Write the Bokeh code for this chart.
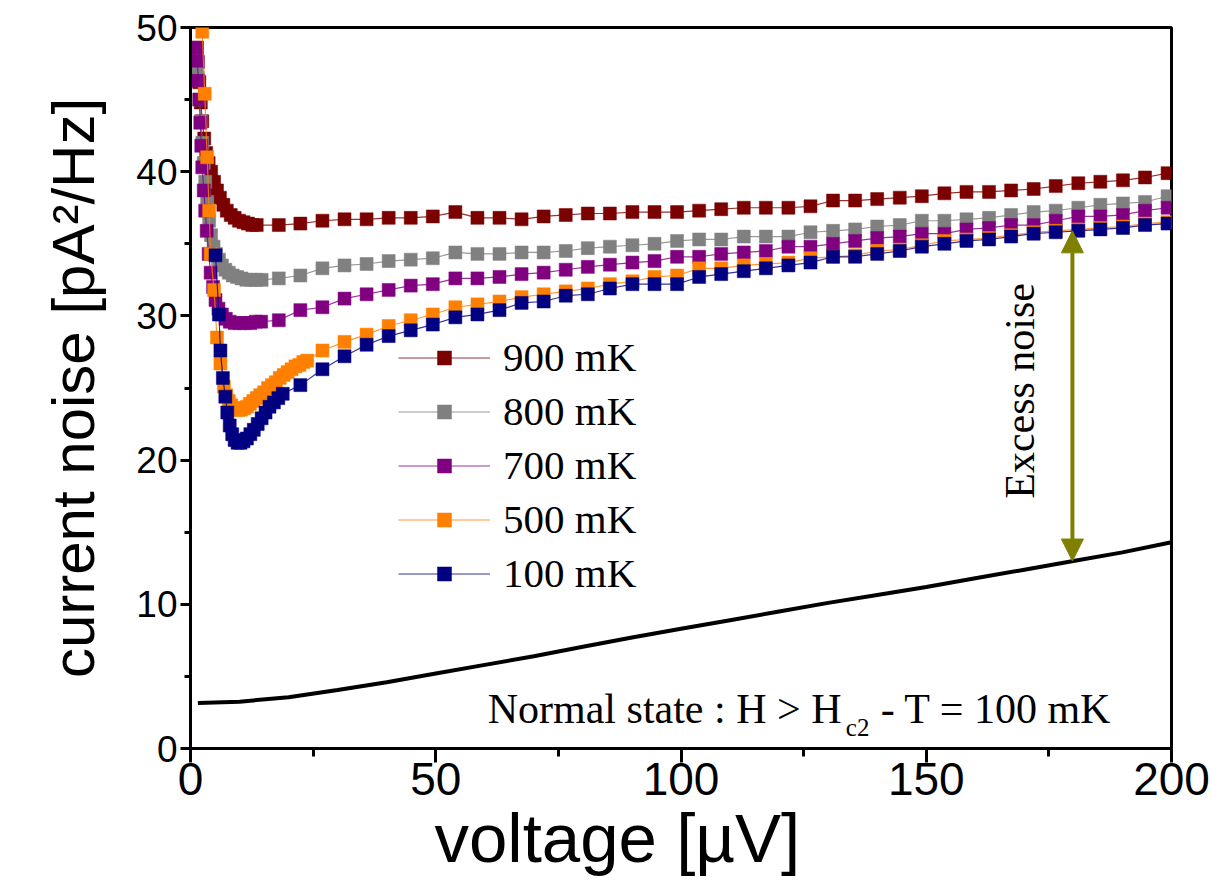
from bokeh.plotting import figure
from bokeh.models import Legend, LegendItem, Label, Arrow, NormalHead, Range1d, FixedTicker, Title
from bokeh.embed import file_html
from bokeh.resources import INLINE

# ---------------- data (voltage in µV, noise in pA^2/Hz) ----------------
V_SPARSE = [13.5, 18.0, 22.4, 26.9, 31.4, 35.9, 40.4, 44.9, 49.4, 54.0,
            58.5, 63.0, 67.5, 72.0, 76.5, 81.0, 85.5, 90.1, 94.6, 99.2,
            103.7, 108.2, 112.8, 117.3, 121.9, 126.4, 131.0, 135.5, 140.0, 144.6,
            149.1, 153.7, 158.2, 162.8, 167.3, 171.9, 176.4, 181.0, 185.5, 190.1,
            194.6, 199.2]

# 900 mK
v900_low = [1.3, 1.5, 1.8, 2.1, 2.4, 2.8, 3.2, 3.7, 4.2, 4.8, 5.4, 6.0, 6.7, 7.4,
            8.2, 9.0, 9.9, 10.8, 11.7, 12.6]
n900_low = [48.6, 47.6, 46.2, 44.8, 43.5, 42.3, 41.3, 40.6, 40.0, 39.3, 38.7, 38.2,
            37.7, 37.3, 37.0, 36.8, 36.6, 36.5, 36.4, 36.3]
n900_high = [36.3, 36.3, 36.4, 36.6, 36.7, 36.7, 36.8, 36.8, 36.9, 37.2,
             36.8, 36.8, 36.7, 36.9, 37.0, 37.1, 37.1, 37.2, 37.2, 37.2,
             37.3, 37.4, 37.5, 37.5, 37.5, 37.6, 38.0, 38.0, 38.1, 38.2,
             38.3, 38.5, 38.6, 38.6, 38.7, 38.8, 39.0, 39.2, 39.3, 39.4,
             39.6, 39.9]

# 800 mK
v800_low = [1.3, 1.5, 1.8, 2.1, 2.4, 2.7, 3.0, 3.4, 3.8, 4.2, 4.7, 5.2, 5.8, 6.4,
            7.1, 7.8, 8.6, 9.5, 10.4, 11.4, 12.4, 13.4, 14.5]
n800_low = [47.3, 46.5, 45.0, 43.5, 42.0, 40.6, 39.3, 37.9, 36.6, 35.6, 34.8, 34.3,
            33.9, 33.5, 33.2, 33.0, 32.8, 32.7, 32.6, 32.5, 32.5, 32.5, 32.5]
n800_high = [32.6, 32.8, 33.3, 33.5, 33.6, 33.8, 33.9, 34.0, 34.4, 34.3,
             34.3, 34.4, 34.4, 34.5, 34.7, 34.8, 34.9, 35.0, 35.2, 35.3,
             35.3, 35.5, 35.5, 35.5, 35.8, 35.9, 36.0, 36.2, 36.3, 36.6,
             36.6, 36.7, 36.8, 37.0, 37.2, 37.3, 37.5, 37.7, 37.8, 37.9,
             38.3]

# 700 mK
v700_low = [1.3, 1.4, 1.6, 1.8, 2.0, 2.2, 2.4, 2.7, 3.0, 3.3, 3.7, 4.1, 4.6, 5.1,
            5.7, 6.4, 7.2, 8.0, 9.0, 10.0, 11.1, 12.2, 13.3, 14.4]
n700_low = [48.6, 47.7, 46.3, 45.0, 43.4, 41.8, 40.3, 38.7, 37.3, 35.9, 34.3, 33.0,
            32.0, 31.1, 30.5, 30.1, 29.8, 29.6, 29.5, 29.5, 29.5, 29.5, 29.6, 29.6]
n700_high = [29.7, 30.4, 30.6, 31.2, 31.5, 31.8, 32.1, 32.2, 32.6, 32.6,
             32.7, 32.9, 33.0, 33.2, 33.4, 33.55, 33.7, 33.8, 34.1, 34.1,
             34.3, 34.4, 34.5, 34.8, 34.8, 35.0, 35.2, 35.4, 35.5, 35.7,
             35.7, 36.0, 36.1, 36.3, 36.3, 36.6, 36.9, 36.9, 37.0, 37.3,
             37.5]

# 500 mK
v500_low = [2.4, 2.9, 3.4, 3.8, 4.1, 4.8, 5.4, 6.1, 6.8, 7.3, 7.8, 8.3, 8.8, 9.3,
            9.8, 10.3, 10.9, 11.5, 12.1, 12.8, 13.5, 14.2, 15.0, 15.8, 16.6, 17.4,
            18.2, 19.0, 19.8, 20.6, 21.4, 22.2, 23.0, 23.8]
n500_low = [49.7, 45.4, 41.0, 37.3, 34.3, 31.8, 28.5, 26.7, 25.1, 24.5, 24.1, 23.8,
            23.6, 23.5, 23.5, 23.5, 23.6, 23.7, 23.9, 24.1, 24.3, 24.5, 24.7, 25.0,
            25.2, 25.4, 25.7, 25.9, 26.1, 26.3, 26.5, 26.6, 26.8, 26.9]
n500_high = [27.6, 28.2, 28.7, 29.3, 29.7, 30.1, 30.6, 30.8, 31.0, 31.3,
             31.5, 31.7, 31.9, 32.2, 32.4, 32.7, 32.8, 33.3, 33.3, 33.5,
             33.6, 33.7, 34.0, 34.1, 34.2, 34.5, 34.6, 34.9, 35.2, 35.3,
             35.4, 35.6, 35.8, 35.9, 36.0, 36.1, 36.2, 36.4, 36.5]

# 100 mK
v100_low = [5.1, 5.8, 6.1, 6.6, 7.1, 7.5, 8.0, 8.5, 9.0, 9.6, 10.2, 10.8, 11.5,
            12.2, 12.9, 13.7, 14.5, 15.3, 16.1, 17.0, 17.9, 18.8]
n100_low = [34.2, 30.1, 27.6, 25.7, 24.4, 23.3, 22.4, 21.8, 21.4, 21.2, 21.2, 21.3,
            21.5, 21.8, 22.1, 22.5, 22.9, 23.3, 23.7, 24.0, 24.3, 24.6]
n100_high = [25.2, 26.3, 27.2, 28.0, 28.6, 29.0, 29.4, 29.9, 30.1, 30.4,
             30.9, 31.0, 31.4, 31.5, 31.9, 32.2, 32.2, 32.2, 32.7, 32.9,
             33.1, 33.3, 33.5, 33.7, 34.1, 34.1, 34.3, 34.5, 34.8, 35.0,
             35.2, 35.3, 35.5, 35.7, 35.8, 35.9, 36.0, 36.1, 36.3, 36.4]

# normal state, H > Hc2, T = 100 mK
v_normal = [1.5, 10, 20, 30, 40, 50, 60, 70, 80, 90, 100, 110, 120, 130, 140,
            150, 160, 170, 180, 190, 200]
n_normal = [3.15, 3.25, 3.55, 4.05, 4.6, 5.2, 5.8, 6.4, 7.05, 7.7, 8.3, 8.9, 9.5,
            10.1, 10.65, 11.2, 11.8, 12.4, 13.0, 13.6, 14.3]

labels = ["900 mK", "800 mK", "700 mK", "500 mK", "100 mK"]
colors = ["#7b0000", "#808080", "#800080", "#ff8000", "#000080"]
series = [
    (v900_low + V_SPARSE[0:], n900_low + n900_high),
    (v800_low + V_SPARSE[1:], n800_low + n800_high),
    (v700_low + V_SPARSE[1:], n700_low + n700_high),
    (v500_low + V_SPARSE[3:], n500_low + n500_high),
    (v100_low + V_SPARSE[2:], n100_low + n100_high),
]

excess_v = 179.8
excess_lo, excess_hi = 13.0, 35.9

# ---------------- figure ----------------
p = figure(width=1212, height=895, output_backend="svg", toolbar_location=None,
           x_range=Range1d(0, 200), y_range=Range1d(0, 50), title=None,
           min_border_left=190, min_border_right=41, min_border_top=27,
           min_border_bottom=147)
p.xgrid.visible = False
p.ygrid.visible = False
p.outline_line_color = "black"
p.outline_line_width = 3
p.background_fill_color = "white"

SANS = "Liberation Sans"
SERIF = "Liberation Serif"

p.xaxis.ticker = FixedTicker(ticks=[0, 50, 100, 150, 200], minor_ticks=[25, 75, 125, 175])
p.yaxis.ticker = FixedTicker(ticks=[0, 10, 20, 30, 40, 50], minor_ticks=[5, 15, 25, 35, 45])
for ax in (p.xaxis[0], p.yaxis[0]):
    ax.axis_line_width = 3
    ax.major_tick_line_width = 3
    ax.minor_tick_line_width = 3
    ax.major_tick_in = 0
    ax.minor_tick_in = 0
    ax.major_label_text_font = SANS
    ax.major_label_text_color = "black"
p.xaxis.major_tick_out = 14
p.xaxis.minor_tick_out = 8
p.yaxis.major_tick_out = 10
p.yaxis.minor_tick_out = 6
p.xaxis.major_label_text_font_size = "46px"
p.yaxis.major_label_text_font_size = "37px"
p.xaxis.major_label_standoff = 0
p.yaxis.major_label_standoff = 3

p.yaxis.axis_label = "current noise [pA²/Hz]"
p.yaxis.axis_label_text_font = SANS
p.yaxis.axis_label_text_font_size = "60px"
p.yaxis.axis_label_text_font_style = "normal"
p.yaxis.axis_label_text_color = "black"
p.yaxis.axis_label_standoff = 26

# x axis title, placed in the panel below the axis
p.add_layout(Title(text="voltage [µV]", align="left", offset=244, standoff=0,
                   text_font=SANS, text_font_size="69px", text_font_style="normal",
                   text_color="black"), "below")

# normal state curve
p.line(v_normal, n_normal, line_color="black", line_width=4)

items = []
for (xs, ys), lab, col in zip(series, labels, colors):
    r_line = p.line(xs, ys, line_color=col, line_width=1.2, line_alpha=0.8)
    r_pts = p.scatter(xs, ys, marker="square", size=13, fill_color=col, line_color=col,
                      line_alpha=0.5)
    items.append(LegendItem(label=lab, renderers=[r_line, r_pts]))

legend = Legend(items=items, location=(208, 151), glyph_width=92, glyph_height=35,
                label_height=35, spacing=6, padding=0, margin=0, label_standoff=13,
                label_text_font=SERIF, label_text_font_size="41px",
                label_text_color="black",
                background_fill_alpha=0, border_line_alpha=0)
p.add_layout(legend)

# excess noise arrow
p.add_layout(Arrow(x_start=excess_v, y_start=excess_lo, x_end=excess_v, y_end=excess_hi,
                   line_color="#808000", line_width=4,
                   start=NormalHead(size=22, fill_color="#808000", line_color="#808000"),
                   end=NormalHead(size=22, fill_color="#808000", line_color="#808000")))
p.add_layout(Label(x=169.2, y=24.8, text="Excess noise", angle=1.5708,
                   text_font=SERIF, text_font_size="42px", text_align="center",
                   text_baseline="middle", text_color="black"))

# normal state annotation
p.add_layout(Label(x=60.6, y=2.77, text="Normal state : H > H", text_font=SERIF,
                   text_font_size="42px", text_align="left", text_baseline="alphabetic",
                   text_color="black"))
p.add_layout(Label(x=133.6, y=1.45, text="c2", text_font=SERIF,
                   text_font_size="25px", text_align="left", text_baseline="alphabetic",
                   text_color="black"))
p.add_layout(Label(x=140.7, y=2.77, text="- T = 100 mK", text_font=SERIF,
                   text_font_size="42px", text_align="left", text_baseline="alphabetic",
                   text_color="black"))

open("out.html", "w").write(file_html(p, INLINE))
